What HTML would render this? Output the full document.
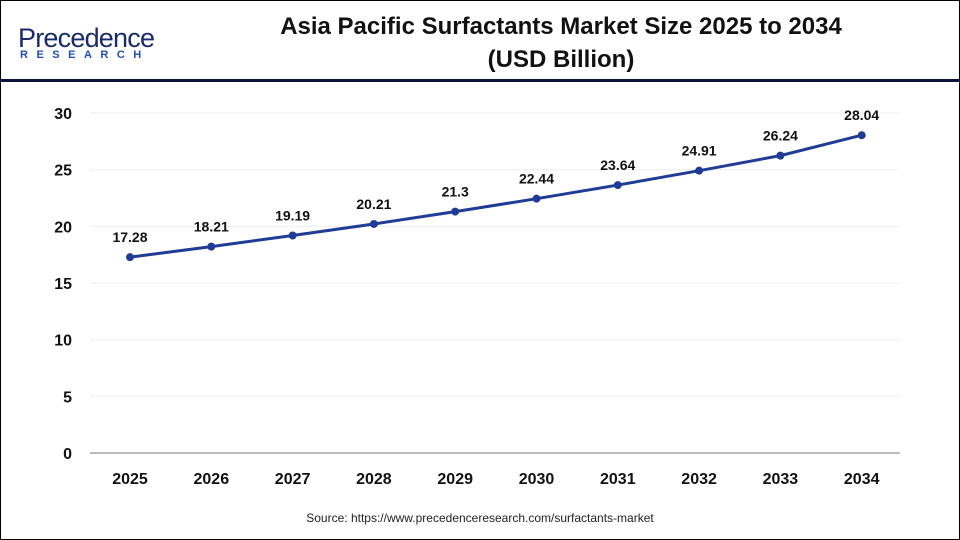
<!DOCTYPE html>
<html><head><meta charset="utf-8"><style>
body{margin:0;width:960px;height:540px;overflow:hidden;background:#fff;font-family:"Liberation Sans",Arial,sans-serif}
#frame{position:absolute;left:0;top:0;width:958px;height:538px;border:1px solid #000}
</style></head><body>
<div id="frame"></div>
<svg width="960" height="540" style="position:absolute;left:0;top:0" id="chart">
<g>
<text x="18" y="47" font-size="27" fill="#1a2a6c" textLength="137" font-family="Liberation Sans">Precedence</text>
<text x="20" y="58" font-size="11" font-weight="bold" fill="#1f4fb0" letter-spacing="8.5">RESEARCH</text>
</g>
<text x="561" y="34" font-size="24" font-weight="bold" text-anchor="middle" fill="#111">Asia Pacific Surfactants Market Size 2025 to 2034</text>
<text x="561" y="67" font-size="24" font-weight="bold" text-anchor="middle" fill="#111">(USD Billion)</text>
<line x1="0" y1="80.5" x2="960" y2="80.5" stroke="#0d1440" stroke-width="3"/>
<g id="grid"></g><g id="plot"></g>
<text x="480" y="522" font-size="12" text-anchor="middle" fill="#222">Source: https://www.precedenceresearch.com/surfactants-market</text>
</svg>
<script>
const years=["2025","2026","2027","2028","2029","2030","2031","2032","2033","2034"];
const values=[17.28,18.21,19.19,20.21,21.3,22.44,23.64,24.91,26.24,28.04];
const yTicks=[0,5,10,15,20,25,30];
const NS="http://www.w3.org/2000/svg";
const x=i=>130+i*81.3;
const y=v=>453-v*(340/30);
function mk(tag,attrs,parent,txt){const e=document.createElementNS(NS,tag);for(const k in attrs)e.setAttribute(k,attrs[k]);if(txt!==undefined)e.textContent=txt;parent.appendChild(e);return e;}
const grid=document.getElementById('grid'),plot=document.getElementById('plot');
yTicks.forEach(t=>{
 const l=mk('line',{x1:90,x2:900,y1:y(t),y2:y(t),stroke:t===0?'#bbb':'#eee','stroke-width':t===0?2:1},grid);
 
 
 const tx=mk('text',{x:72,y:y(t)+6,'font-size':16,'font-weight':'bold','text-anchor':'end',fill:'#111'},grid,String(t));
 
 
});
years.forEach((yr,i)=>{
 const tx=mk('text',{x:x(i),y:484,'font-size':16,'font-weight':'bold','text-anchor':'middle',fill:'#111'},grid,yr);
 
 
});
const pl=mk('polyline',{points:values.map((v,i)=>x(i)+','+y(v)).join(' '),fill:'none',stroke:'#1f3c96','stroke-width':3},plot);


values.forEach((v,i)=>{
 const c=mk('circle',{cx:x(i),cy:y(v),r:4,fill:'#1f3c96'},plot);
 
 
 const t=mk('text',{x:x(i),y:y(v)-15,'font-size':14,'font-weight':'bold','text-anchor':'middle',fill:'#111'},plot,String(v));
 
 
});
</script>
</body></html>
